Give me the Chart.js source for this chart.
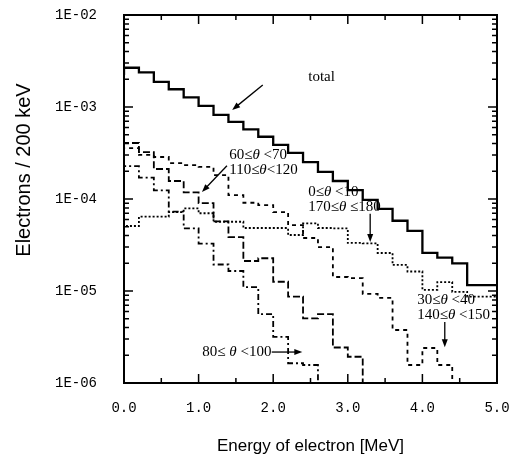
<!DOCTYPE html>
<html>
<head>
<meta charset="utf-8">
<script src="https://cdn.jsdelivr.net/npm/chart.js@4.4.1/dist/chart.umd.min.js"></script>
<style>
  html, body { margin: 0; padding: 0; background: #fff; }
  #wrap { width: 515px; height: 463px; }
</style>
</head>
<body>
<div id="wrap"><canvas id="spectrum"></canvas></div>
<script>
// 200 keV bins, 0 - 5 MeV
const energyBinWidth = 0.2;

const totalCounts = [2.23e-3, 2.67e-3, 2.38e-3, 1.88e-3, 1.56e-3, 1.27e-3, 1.03e-3, 8.2e-4, 6.9e-4, 5.7e-4,
    4.75e-4, 3.87e-4, 3.18e-4, 2.52e-4, 1.97e-4, 1.57e-4, 1.25e-4, 9.8e-5, 7.8e-5, 5.8e-5,
    4.5e-5, 2.6e-5, 2.3e-5, 2.0e-5, 1.16e-5];

// null = bin falls below the 1E-06 axis
const theta60to70 = [3.86e-4, 4.06e-4, 3.24e-4, 2.12e-4, 1.57e-4, 1.18e-4, 9.0e-5, 5.7e-5, 3.86e-5, 2.12e-5,
    2.27e-5, 1.26e-5, 8.7e-6, 5.05e-6, 5.6e-6, 2.43e-6, 1.93e-6, null];

const theta30to40 = [3.33e-4, 3.58e-4, 3.01e-4, 2.86e-4, 2.46e-4, 2.34e-4, 2.23e-4, 1.82e-4, 1.10e-4, 9.1e-5,
    8.6e-5, 7.2e-5, 5.2e-5, 3.77e-5, 3.0e-5, 1.42e-5, 1.38e-5, 9.3e-6, 8.4e-6, 3.77e-6,
    1.57e-6, 2.4e-6, 1.57e-6, null];

const theta80to100 = [2.07e-4, 2.28e-4, 1.71e-4, 1.24e-4, 7.3e-5, 4.8e-5, 3.28e-5, 1.94e-5, 1.65e-5, 1.10e-5,
    5.6e-6, 3.18e-6, 1.64e-6, 1.57e-6, null];

const theta0to10 = [3.58e-5, 5.09e-5, 6.43e-5, 6.43e-5, 7.2e-5, 7.9e-5, 7.0e-5, 5.66e-5, 5.66e-5, 4.84e-5,
    4.84e-5, 4.84e-5, 4.06e-5, 5.42e-5, 4.84e-5, 4.8e-5, 3.33e-5, 3.3e-5, 2.59e-5, 1.92e-5,
    1.63e-5, 1.03e-5, 1.25e-5, 9.8e-6, 8.7e-6];

const xTickValues = [0, 1, 2, 3, 4, 5];
const xTickLabels = ['0.0', '1.0', '2.0', '3.0', '4.0', '5.0'];
const xMinorTicks = [0.5, 1.5, 2.5, 3.5, 4.5];
const yTickValues = [1e-6, 1e-5, 1e-4, 1e-3, 1e-2];
const yTickLabels = ['1E-06', '1E-05', '1E-04', '1E-03', '1E-02'];

const OFF_SCALE = 1e-7;
const tickFont = '14px "Liberation Mono", monospace';

function histPoints(values) {
    const pts = values.map((v, i) => ({ x: i * energyBinWidth, y: v === null ? OFF_SCALE : v }));
    const last = values[values.length - 1];
    if (last !== null) pts.push({ x: values.length * energyBinWidth, y: last });
    return pts;
}

function drawRich(ctx, text, x, y, size) {
    let cx = x;
    text.split(/(θ)/).forEach(part => {
        if (!part) return;
        ctx.font = (part === 'θ' ? 'italic ' : '') + size + 'px "Liberation Serif", serif';
        ctx.fillText(part, cx, y);
        cx += ctx.measureText(part).width;
    });
}

function drawArrow(ctx, x1, y1, x2, y2) {
    const a = Math.atan2(y2 - y1, x2 - x1);
    const len = 8, half = 3;
    ctx.beginPath();
    ctx.moveTo(x1, y1);
    ctx.lineTo(x2 - Math.cos(a) * len * 0.6, y2 - Math.sin(a) * len * 0.6);
    ctx.stroke();
    ctx.beginPath();
    ctx.moveTo(x2, y2);
    ctx.lineTo(x2 - Math.cos(a) * len - Math.sin(a) * half, y2 - Math.sin(a) * len + Math.cos(a) * half);
    ctx.lineTo(x2 - Math.cos(a) * len + Math.sin(a) * half, y2 - Math.sin(a) * len - Math.cos(a) * half);
    ctx.closePath();
    ctx.fill();
}

// labels placed in data coordinates (energy, counts)
const notes = [
    { lines: ['total'], at: [2.47, 2.1e-3], arrow: [[1.86, 1.73e-3], [1.45, 9.3e-4]] },
    { lines: ['60≤θ <70', '110≤θ<120'], at: [1.41, 3.0e-4], arrow: [[1.38, 2.3e-4], [1.045, 1.19e-4]] },
    { lines: ['0≤θ <10', '170≤θ ≤180'], at: [2.47, 1.19e-4], arrow: [[3.30, 6.9e-5], [3.30, 3.4e-5]] },
    { lines: ['30≤θ <40', '140≤θ <150'], at: [3.93, 8.0e-6], arrow: [[4.30, 4.6e-6], [4.30, 2.45e-6]] },
    { lines: ['80≤ θ <100'], at: [1.05, 2.17e-6], arrow: [[1.98, 2.17e-6], [2.39, 2.17e-6]] }
];

const framePlugin = {
    id: 'frame',
    afterDatasetsDraw(chart) {
        const { ctx, chartArea: a, scales: { x, y } } = chart;
        ctx.save();
        ctx.strokeStyle = '#000';
        ctx.fillStyle = '#000';
        ctx.lineWidth = 2;
        ctx.strokeRect(a.left, a.top, a.right - a.left, a.bottom - a.top);

        ctx.lineWidth = 1.5;
        ctx.beginPath();
        xTickValues.forEach(v => {
            const px = x.getPixelForValue(v);
            ctx.moveTo(px, a.bottom); ctx.lineTo(px, a.bottom - 9);
            ctx.moveTo(px, a.top); ctx.lineTo(px, a.top + 9);
        });
        xMinorTicks.forEach(v => {
            const px = x.getPixelForValue(v);
            ctx.moveTo(px, a.bottom); ctx.lineTo(px, a.bottom - 5);
            ctx.moveTo(px, a.top); ctx.lineTo(px, a.top + 5);
        });
        yTickValues.forEach((d, i) => {
            const py = y.getPixelForValue(d);
            ctx.moveTo(a.left, py); ctx.lineTo(a.left + 9, py);
            ctx.moveTo(a.right, py); ctx.lineTo(a.right - 9, py);
            if (i === yTickValues.length - 1) return;
            for (let m = 2; m <= 9; m++) {
                const pm = y.getPixelForValue(d * m);
                ctx.moveTo(a.left, pm); ctx.lineTo(a.left + 5, pm);
                ctx.moveTo(a.right, pm); ctx.lineTo(a.right - 5, pm);
            }
        });
        ctx.stroke();

        // tick labels
        ctx.font = tickFont;
        ctx.textAlign = 'center';
        ctx.textBaseline = 'top';
        xTickValues.forEach((v, i) => ctx.fillText(xTickLabels[i], x.getPixelForValue(v), a.bottom + 18));
        ctx.textAlign = 'right';
        ctx.textBaseline = 'middle';
        yTickValues.forEach((v, i) => ctx.fillText(yTickLabels[i], a.left - 27, y.getPixelForValue(v)));

        // y axis title (sits above the centre of the axis in the original)
        ctx.save();
        ctx.translate(24, 170);
        ctx.rotate(-Math.PI / 2);
        ctx.textAlign = 'center';
        ctx.font = '20px "Liberation Sans", Arial, sans-serif';
        ctx.fillText('Electrons / 200 keV', 0, 0);
        ctx.restore();

        // annotations
        ctx.textAlign = 'left';
        ctx.lineWidth = 1.3;
        notes.forEach(n => {
            const tx = x.getPixelForValue(n.at[0]);
            const ty = y.getPixelForValue(n.at[1]);
            n.lines.forEach((t, i) => drawRich(ctx, t, tx, ty + i * 15, 15));
            const [p, q] = n.arrow;
            drawArrow(ctx, x.getPixelForValue(p[0]), y.getPixelForValue(p[1]),
                x.getPixelForValue(q[0]), y.getPixelForValue(q[1]));
        });
        ctx.restore();
    }
};

function histDataset(label, values, width, dash) {
    return {
        label: label,
        data: histPoints(values),
        stepped: 'after',
        borderColor: '#000',
        borderWidth: width,
        borderDash: dash,
        pointRadius: 0,
        fill: false
    };
}

new Chart(document.getElementById('spectrum'), {
    type: 'line',
    data: {
        datasets: [
            histDataset('total', totalCounts, 2.3, []),
            histDataset('60≤θ<70, 110≤θ<120', theta60to70, 1.8, [7, 3]),
            histDataset('30≤θ<40, 140≤θ<150', theta30to40, 1.8, [4, 4]),
            histDataset('80≤θ<100', theta80to100, 1.8, [6, 3, 2, 3]),
            histDataset('0≤θ<10, 170≤θ≤180', theta0to10, 1.8, [2, 2])
        ]
    },
    options: {
        responsive: true,
        maintainAspectRatio: false,
        animation: false,
        layout: { padding: { top: 15, right: 18, bottom: 0, left: 0 } },
        plugins: {
            legend: { display: false },
            tooltip: { enabled: false }
        },
        scales: {
            x: {
                type: 'linear',
                min: 0,
                max: 5,
                afterFit: s => { s.height = 80; },
                grid: { display: false, drawTicks: false },
                border: { display: false },
                ticks: { display: false },
                title: {
                    display: true,
                    text: 'Energy of electron [MeV]',
                    color: '#000',
                    font: { family: '"Liberation Sans", Arial, sans-serif', size: 17 },
                    padding: { top: 0, bottom: 6 }
                }
            },
            y: {
                type: 'logarithmic',
                min: 1e-6,
                max: 1e-2,
                afterFit: s => { s.width = 124; },
                grid: { display: false, drawTicks: false },
                border: { display: false },
                ticks: { display: false },
                title: { display: false }
            }
        }
    },
    plugins: [framePlugin]
});
</script>
</body>
</html>
